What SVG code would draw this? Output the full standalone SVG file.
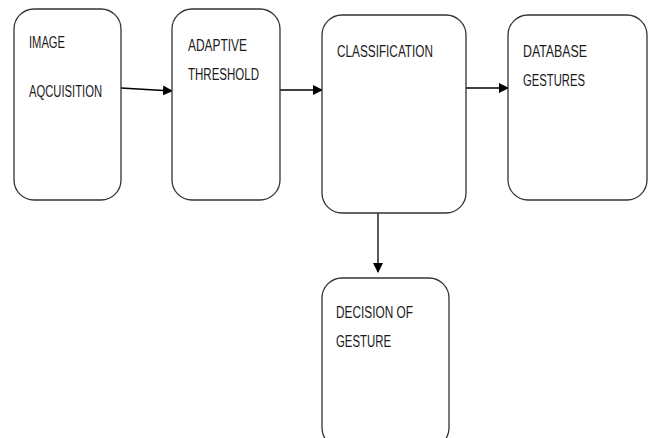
<svg xmlns="http://www.w3.org/2000/svg" width="656" height="438" viewBox="0 0 656 438">
<defs>
<marker id="ah" markerWidth="10" markerHeight="10" refX="9" refY="5" orient="auto" markerUnits="userSpaceOnUse">
<path d="M0,0 L10,5 L0,10 Z" fill="#000"/>
</marker>
<style>
.box{fill:#fff;stroke:#333;stroke-width:1.3}
.t{font-family:"Liberation Sans",Arial,sans-serif;font-size:16px;fill:#1a1a1a}
.c{stroke:#000;stroke-width:1.3;fill:none}
</style>
</defs>
<rect width="656" height="438" fill="#fff"/>
<g id="connectors">
<line class="c" x1="121" y1="88" x2="172" y2="91" marker-end="url(#ah)"/>
<line class="c" x1="269" y1="90" x2="322" y2="90" marker-end="url(#ah)"/>
<line class="c" x1="460" y1="88" x2="508" y2="88" marker-end="url(#ah)"/>
<line class="c" x1="378" y1="213" x2="378" y2="272" marker-end="url(#ah)"/>
</g>
<g id="image-acquisition">
<rect class="box" x="14" y="9" width="107" height="191" rx="20"/>
<text class="t" x="29" y="48" textLength="36" lengthAdjust="spacingAndGlyphs">IMAGE</text>
<text class="t" x="29" y="97" textLength="73" lengthAdjust="spacingAndGlyphs">AQCUISITION</text>
</g>
<g id="adaptive-threshold">
<rect class="box" x="172" y="9" width="108" height="191" rx="20"/>
<text class="t" x="188" y="51" textLength="59" lengthAdjust="spacingAndGlyphs">ADAPTIVE</text>
<text class="t" x="188" y="80" textLength="71" lengthAdjust="spacingAndGlyphs">THRESHOLD</text>
</g>
<g id="classification">
<rect class="box" x="322" y="15" width="144" height="198" rx="20"/>
<text class="t" x="337" y="57" textLength="96" lengthAdjust="spacingAndGlyphs">CLASSIFICATION</text>
</g>
<g id="database-gestures">
<rect class="box" x="508" y="15" width="139" height="185" rx="20"/>
<text class="t" x="523" y="57" textLength="64" lengthAdjust="spacingAndGlyphs">DATABASE</text>
<text class="t" x="523" y="86" textLength="62" lengthAdjust="spacingAndGlyphs">GESTURES</text>
</g>
<g id="decision-of-gesture">
<rect class="box" x="322" y="278" width="127" height="170" rx="20"/>
<text class="t" x="336" y="318" textLength="77" lengthAdjust="spacingAndGlyphs">DECISION OF</text>
<text class="t" x="336" y="347" textLength="55" lengthAdjust="spacingAndGlyphs">GESTURE</text>
</g>
</svg>
